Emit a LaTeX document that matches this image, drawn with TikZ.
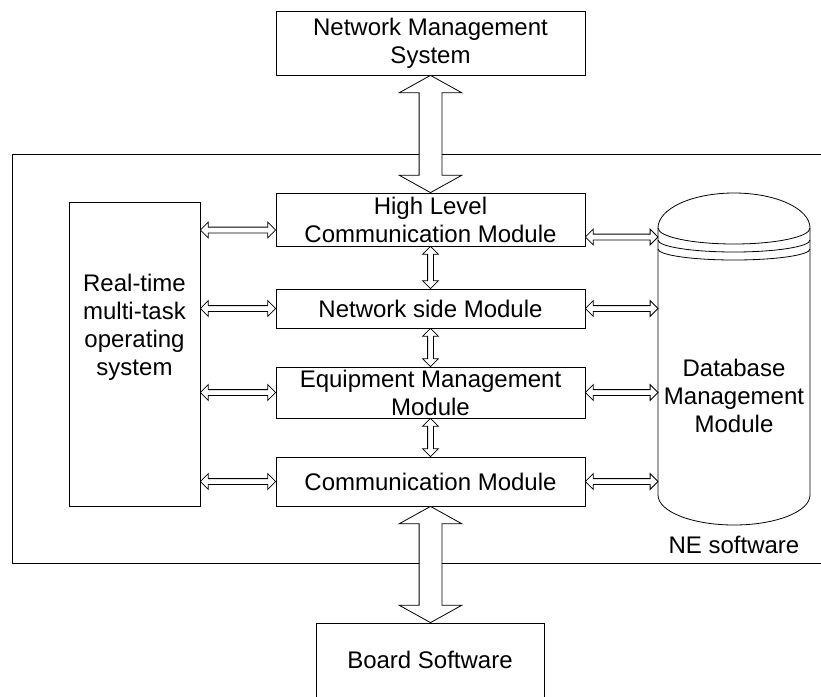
\documentclass[tikz,border=0pt]{standalone}
\usepackage{fontspec}
\setmainfont{Liberation Sans}
\usetikzlibrary{shapes.arrows,calc}

\tikzset{
  module/.style={draw, rectangle, inner sep=0pt, minimum width=309pt, align=center},
  thinarrow/.style={double arrow, draw, fill=white, inner xsep=0pt, inner ysep=2.5pt,
    double arrow head extend=5pt, double arrow tip angle=90},
  widearrow/.style={double arrow, draw, fill=white, inner xsep=0pt, inner ysep=11pt,
    double arrow head extend=20pt, double arrow tip angle=122},
}

% double block arrow between two points
\newcommand{\dblarrow}[3]{%
  \path let \p1=($(#3)-(#2)$), \n1={veclen(\x1,\y1)}, \n2={atan2(\y1,\x1)} in
    node[#1, minimum height=\n1, rotate=\n2] at ($(#2)!.5!(#3)$) {};}

\begin{document}
\begin{tikzpicture}[x=1pt, y=-1pt, line width=0.8pt,
  font=\fontsize{24}{28}\selectfont]
\useasboundingbox (0,0) rectangle (821,696);
%
\draw (821,154) -- (12,154) -- (12,563) -- (821,563);
\node (nelabel) at (734,545) {NE software};
%
\node[module, minimum height=64pt] (nms) at (430.5,43) {Network Management\\System};
\node[draw, inner sep=0pt, minimum width=228pt, minimum height=74pt] (bs) at (430,660) {Board Software};
%
\node[draw, inner sep=0pt, minimum width=131pt, minimum height=304pt] (rt) at (134.5,354) {};
\node[align=center] (rtlabel) at ([yshift=27pt]rt.center) {Real-time\\multi-task\\operating\\system};
%
\node[module, minimum height=53pt] (hl) at (430.5,219.5) {High Level\\Communication Module};
\node[module, minimum height=39pt] (ns) at (430.5,308.5) {Network side Module};
\node[module, minimum height=51pt] (em) at (430.5,392.5) {Equipment Management\\Module};
\node[module, minimum height=49pt] (cm) at (430.5,481.5) {Communication Module};
%
\draw (658,228) arc[start angle=180, end angle=0, x radius=76pt, y radius=35pt];
\draw (658,228) arc[start angle=180, end angle=360, x radius=76pt, y radius=16pt];
\draw (658,240) arc[start angle=180, end angle=360, x radius=76pt, y radius=12pt];
\draw (658,249) arc[start angle=180, end angle=360, x radius=76pt, y radius=11pt];
\draw (658,228) -- (658,495) arc[start angle=180, end angle=360, x radius=76pt, y radius=30pt] -- (810,228);
\node[align=center] (db) at (734,396) {Database\\Management\\Module};
\coordinate (dbside) at (658,300);
%
\dblarrow{widearrow}{nms.south}{hl.north}
\dblarrow{widearrow}{cm.south}{cm.south |- bs.north}
%
\dblarrow{thinarrow}{hl.south}{ns.north}
\dblarrow{thinarrow}{ns.south}{em.north}
\dblarrow{thinarrow}{em.south}{cm.north}
%
\coordinate (lhl) at ([yshift=-10.5pt]hl.west);
\dblarrow{thinarrow}{rt.east |- lhl}{lhl}
\dblarrow{thinarrow}{rt.east |- ns.west}{ns.west}
\dblarrow{thinarrow}{rt.east |- em.west}{em.west}
\dblarrow{thinarrow}{rt.east |- cm.west}{cm.west}
%
\coordinate (rhl) at ([yshift=-17.5pt]hl.east);
\dblarrow{thinarrow}{rhl}{dbside |- rhl}
\dblarrow{thinarrow}{ns.east}{dbside |- ns.east}
\dblarrow{thinarrow}{em.east}{dbside |- em.east}
\dblarrow{thinarrow}{cm.east}{dbside |- cm.east}
\end{tikzpicture}
\end{document}
